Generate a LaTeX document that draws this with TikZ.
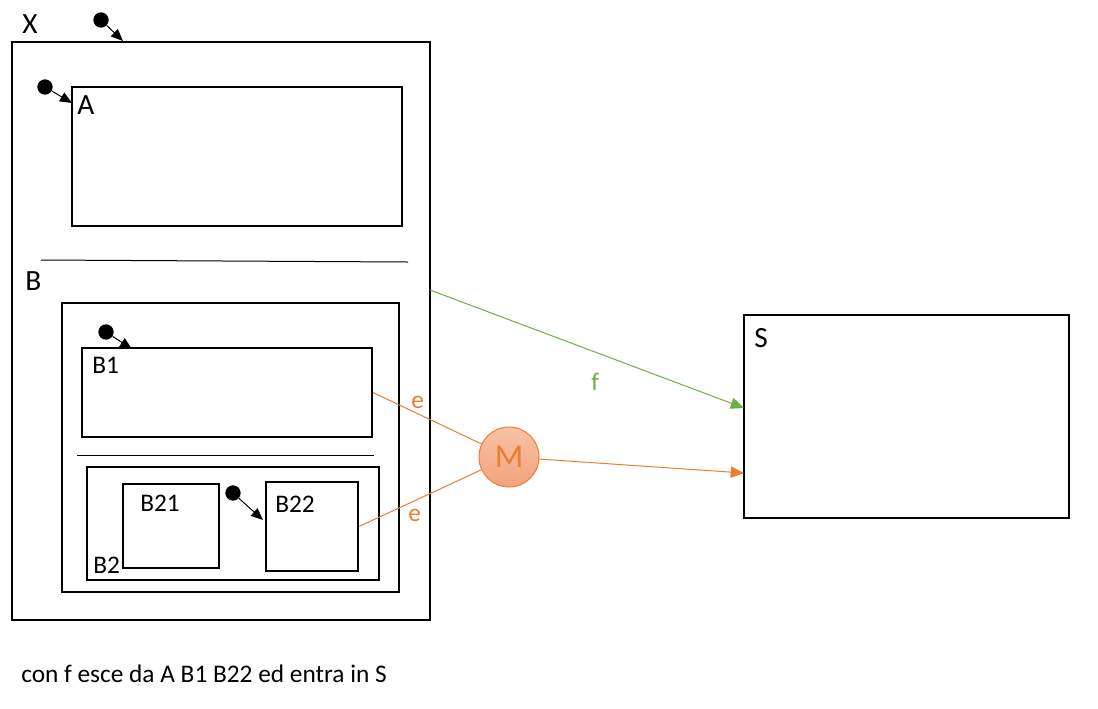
\documentclass[tikz,border=0pt]{standalone}
\usepackage{fontspec}
\setmainfont{Carlito}
\usetikzlibrary{arrows.meta,fit,calc}
\definecolor{orng}{HTML}{ED7D31}
\definecolor{grn}{HTML}{70AD47}
\definecolor{mtop}{HTML}{F6C3A6}
\definecolor{mbot}{HTML}{F4A27A}
\begin{document}
\begin{tikzpicture}[x=0.75pt,y=-0.75pt,
  box/.style={draw, line width=1.5pt, inner sep=0pt},
  biglab/.style={font=\fontsize{22}{26}\selectfont, inner sep=0pt, anchor=base west},
  smalllab/.style={font=\fontsize{19}{23}\selectfont, inner sep=0pt, anchor=base west},
  initdot/.style={circle, fill=black, inner sep=0pt, minimum size=11.5pt},
  initarr/.style={-{Triangle[length=9pt,width=7.5pt]}, line width=0.75pt},
  seprule/.style={line width=0.75pt},
  trans/.style={line width=0.75pt}]
\useasboundingbox (0,0) rectangle (1098,708);

% states
\node[box, fit={(12,42) (430,620)}] (X) {};
\node[box, fit={(72,87) (402,226)}] (A) {};
\node[box, fit={(62,303) (399,592)}] (B) {};
\node[box, fit={(82,348) (372,437)}] (B1) {};
\node[box, fit={(87,467) (379,580)}] (B2) {};
\node[box, fit={(123,484) (219,568)}] (B21) {};
\node[box, fit={(266,482) (358,571)}] (B22) {};
\node[box, fit={(744,315) (1069,518)}] (S) {};

% separators
\draw[seprule] (41,260) -- (408,262);
\draw[seprule] (77,455) -- (374,455);

% labels
\node[biglab] (lX) at (22,33) {X};
\node[biglab] (lA) at (77,114) {A};
\node[biglab] (lB) at (25,290) {B};
\node[biglab] (lS) at (754,347) {S};
\node[smalllab] (lB1) at (92,373) {B1};
\node[smalllab] (lB21) at (140,511) {B21};
\node[smalllab] (lB22) at (275,512) {B22};
\node[smalllab] (lB2) at (93,573) {B2};

% initial pseudostates
\node[initdot] (dX) at (101,20) {};
\coordinate (inX) at (123,41);
\draw[initarr] (dX) -- (inX);
\node[initdot] (dA) at (45,87) {};
\coordinate (inA) at (72,103);
\draw[initarr] (dA) -- (inA);
\node[initdot] (dB1) at (106,332) {};
\coordinate (inB1) at (132,349);
\draw[initarr] (dB1) -- (inB1);
\node[initdot] (dB22) at (233,493) {};
\coordinate (inB22) at (263,520);
\draw[initarr] (dB22) -- (inB22);

% merge node
\node[circle, draw=orng, line width=0.75pt, top color=mtop, bottom color=mbot,
      minimum size=45pt, inner sep=0pt, text=orng,
      font=\fontsize{25}{29}\selectfont] (M) at (509,457) {M};

% transitions
\draw[trans, draw=orng] (B1.east) -- (M);
\draw[trans, draw=orng] (B22.east) -- (M);
\node[smalllab, text=orng] (e1) at (411,408) {e};
\node[smalllab, text=orng] (e2) at (408,521) {e};

\coordinate (mS) at (744,473);
\draw[trans, draw=orng, -{Triangle[length=10pt,width=8.5pt]}] (M) -- (mS);

\coordinate (fX) at (430,290);
\coordinate (fS) at (744,408);
\draw[trans, draw=grn, -{Triangle[length=10pt,width=8.5pt]}] (fX) -- (fS);
\node[smalllab, text=grn] (lf) at (591,390) {f};

% caption
\node[smalllab] (cap) at (21,682) {con f esce da A B1 B22 ed entra in S};
\end{tikzpicture}
\end{document}
